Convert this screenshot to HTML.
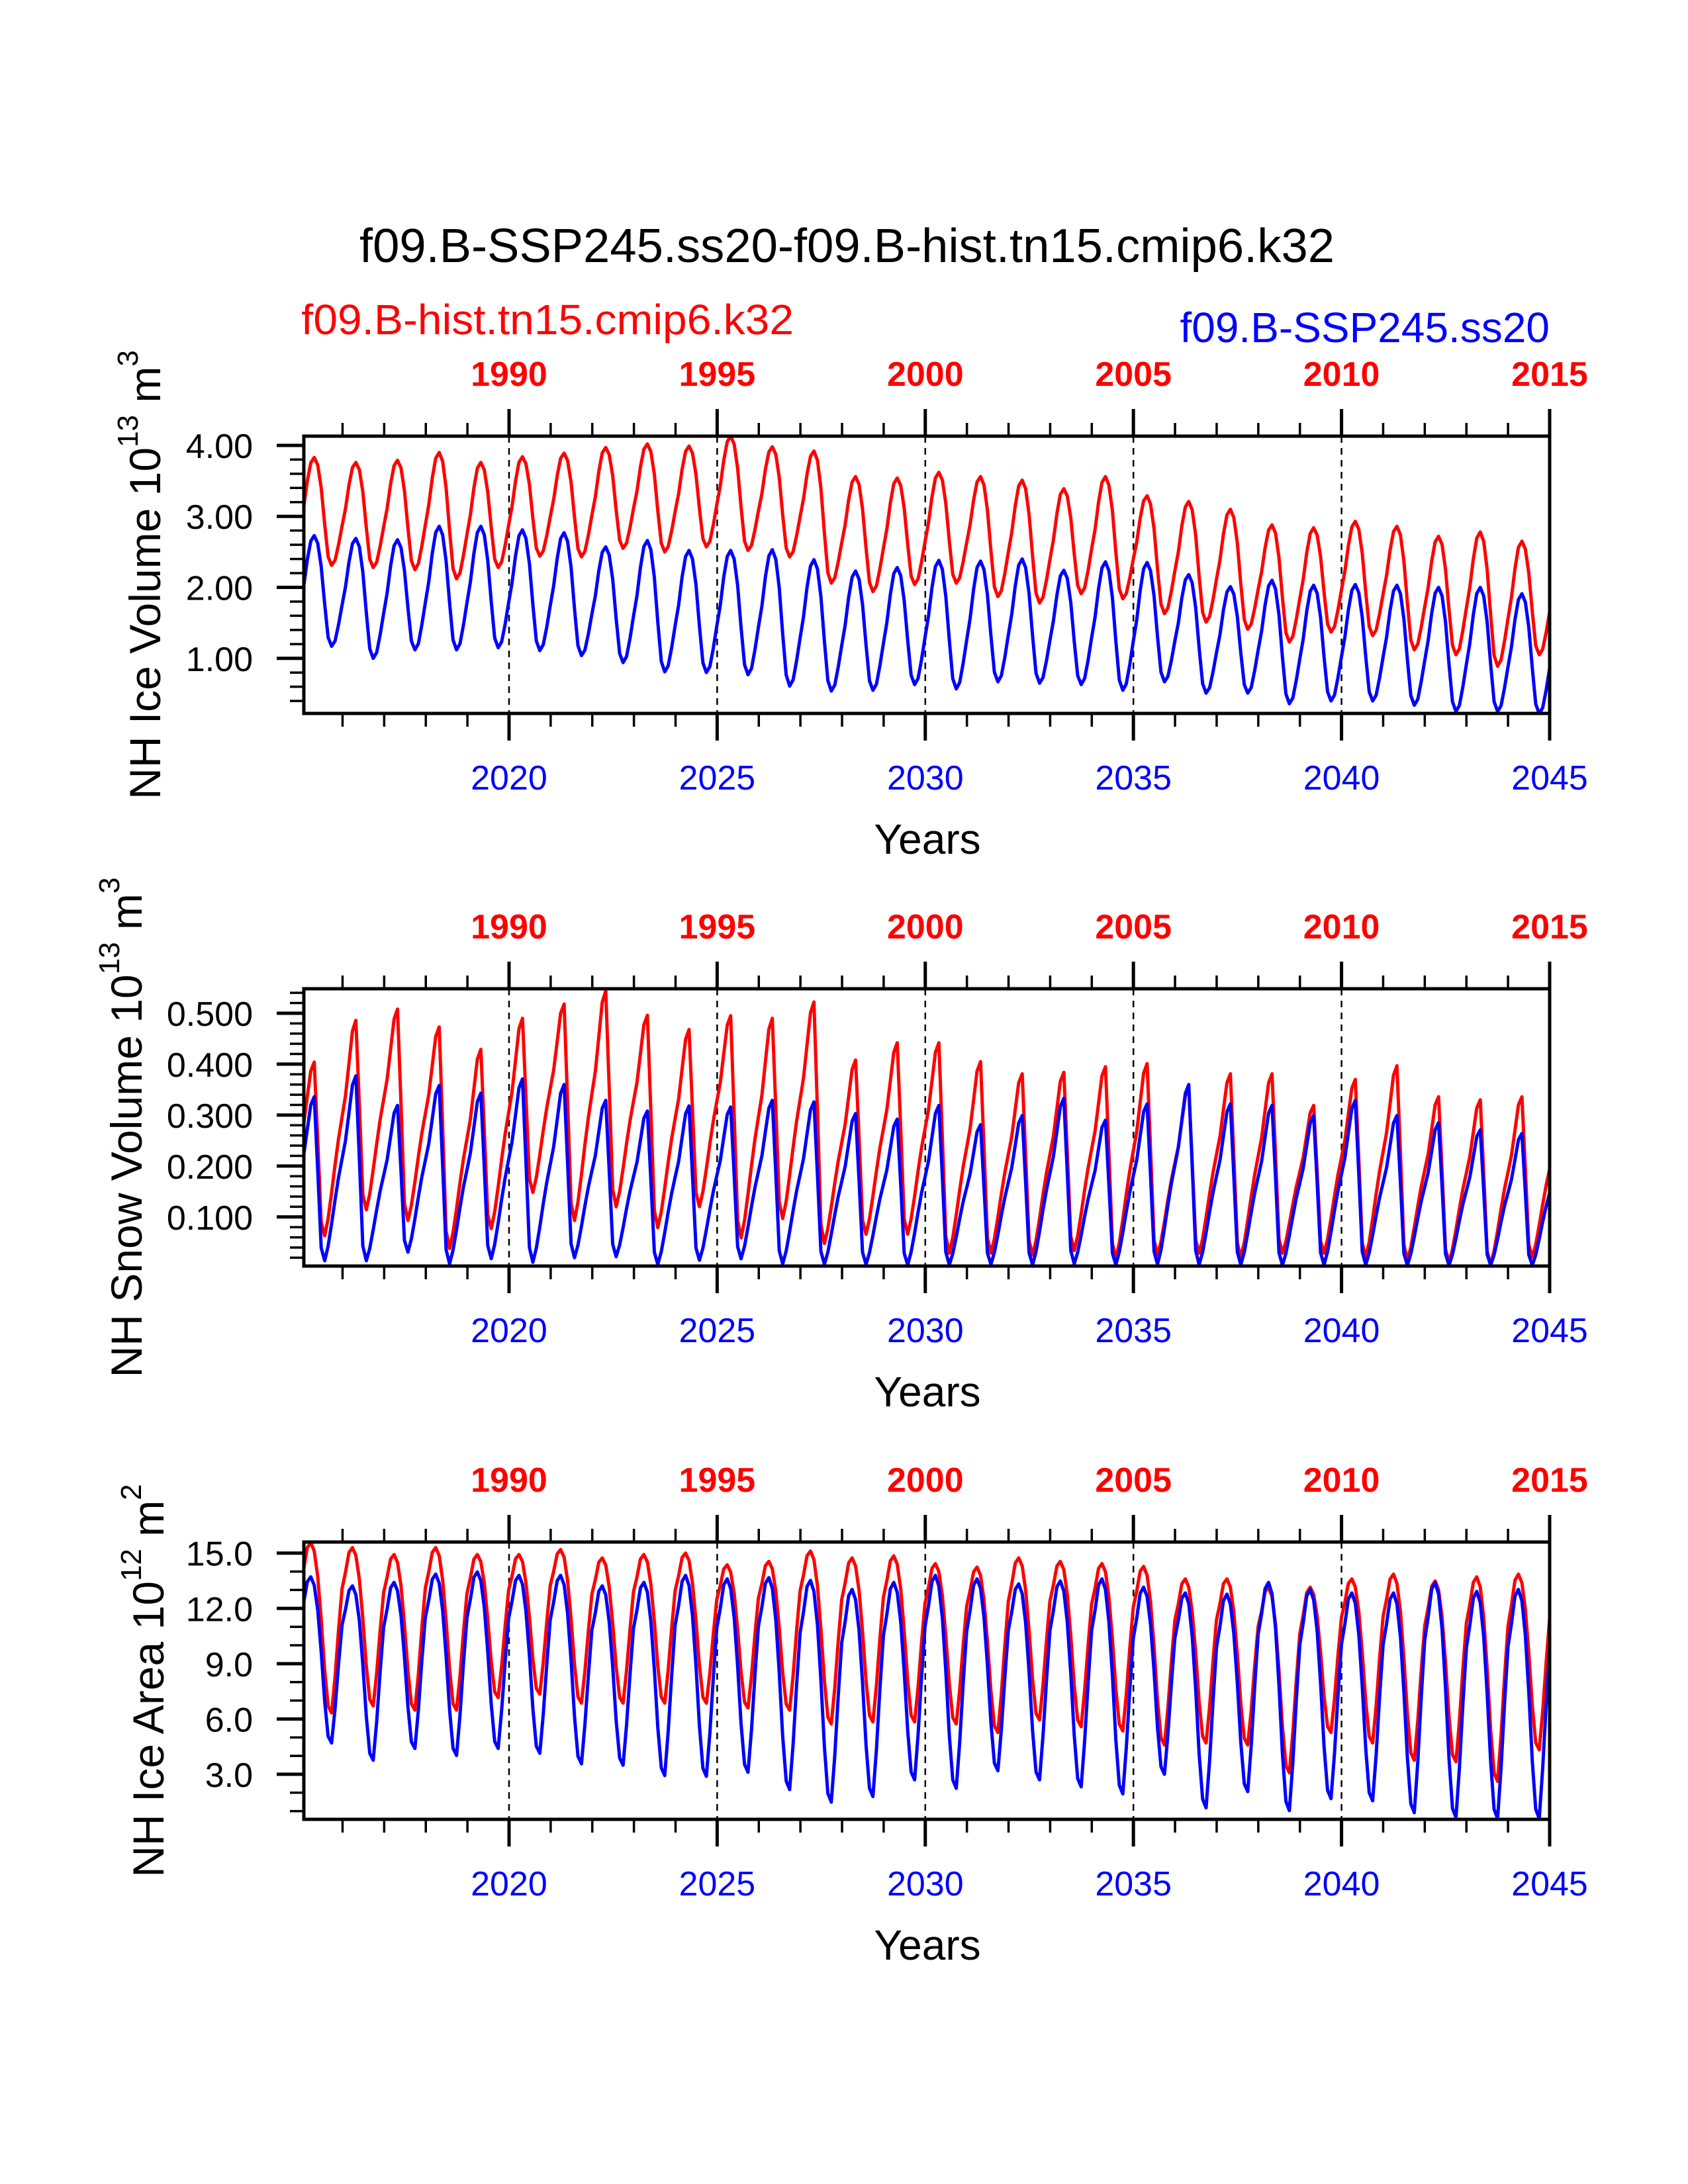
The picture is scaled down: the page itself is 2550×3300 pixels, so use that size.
<!DOCTYPE html>
<html><head><meta charset="utf-8"><style>html,body{margin:0;padding:0;background:#fff}svg{display:block}</style></head>
<body>
<svg id="chart" width="2550" height="3300" viewBox="0 0 2550 3300" xmlns="http://www.w3.org/2000/svg" font-family="Liberation Sans, Arial, sans-serif">
<rect x="0" y="0" width="2550" height="3300" fill="#fff"/>
<text x="543" y="396" font-size="72" textLength="1473" lengthAdjust="spacingAndGlyphs">f09.B-SSP245.ss20-f09.B-hist.tn15.cmip6.k32</text>
<text x="455" y="505" font-size="64" fill="#ff0000" textLength="744" lengthAdjust="spacingAndGlyphs">f09.B-hist.tn15.cmip6.k32</text>
<text x="2341" y="517" font-size="64" fill="#0000ff" text-anchor="end">f09.B-SSP245.ss20</text>
<g id="plots"></g>
</svg>
<script>
// ---- data (annual maxima / minima, 2015..2044) ----
const years = [2015,2016,2017,2018,2019,2020,2021,2022,2023,2024,2025,2026,2027,2028,2029,2030,2031,2032,2033,2034,2035,2036,2037,2038,2039,2040,2041,2042,2043,2044];
const topTickLabels = ["1990","1995","2000","2005","2010","2015"];
const bottomTickLabels = ["2020","2025","2030","2035","2040","2045"];

const iceVolRedMax = [3.83,3.76,3.79,3.90,3.76,3.84,3.89,3.97,4.02,3.99,4.13,3.98,3.92,3.56,3.54,3.62,3.56,3.51,3.39,3.56,3.29,3.21,3.10,2.88,2.84,2.93,2.86,2.72,2.78,2.65];
const iceVolRedMin = [2.31,2.28,2.25,2.12,2.28,2.44,2.43,2.55,2.50,2.57,2.52,2.43,2.06,1.94,2.04,2.06,1.87,1.78,1.91,1.84,1.63,1.51,1.41,1.23,1.37,1.32,1.12,1.05,0.89,1.05];
const iceVolBlueMax = [2.73,2.69,2.67,2.86,2.86,2.81,2.77,2.57,2.66,2.52,2.52,2.53,2.39,2.23,2.28,2.38,2.37,2.40,2.24,2.36,2.35,2.18,2.01,2.10,2.03,2.04,2.03,2.00,2.00,1.91];
const iceVolBlueMin = [1.17,1.00,1.12,1.12,1.15,1.11,1.04,0.94,0.81,0.80,0.77,0.61,0.54,0.55,0.63,0.57,0.67,0.65,0.63,0.55,0.67,0.51,0.51,0.36,0.40,0.40,0.34,0.25,0.25,0.22];

const snowRedMax = [0.404,0.486,0.508,0.473,0.429,0.490,0.518,0.544,0.496,0.468,0.495,0.490,0.522,0.408,0.442,0.442,0.405,0.381,0.384,0.395,0.401,0.353,0.381,0.381,0.319,0.370,0.397,0.336,0.330,0.336];
const snowRedMin = [0.063,0.114,0.093,0.038,0.077,0.148,0.093,0.120,0.079,0.120,0.059,0.097,0.048,0.066,0.066,0.029,0.029,0.025,0.034,0.018,0.025,0.029,0.021,0.029,0.029,0.021,0.015,0.011,0.007,0.021];
const snowBlueMax = [0.336,0.377,0.319,0.358,0.343,0.371,0.360,0.329,0.308,0.318,0.316,0.329,0.326,0.303,0.292,0.319,0.281,0.299,0.333,0.290,0.322,0.360,0.322,0.319,0.299,0.329,0.299,0.285,0.271,0.264];
const snowBlueMin = [0.014,0.014,0.031,0.008,0.018,0.011,0.020,0.022,0.007,0.015,0.018,0.008,0.007,0.007,0.006,0.006,0.007,0.006,0.008,0.006,0.007,0.006,0.006,0.005,0.006,0.006,0.005,0.005,0.005,0.005];

const areaRedMax = [15.57,15.30,14.92,15.30,14.92,14.92,15.19,14.74,14.92,15.00,14.36,14.55,15.11,14.74,14.85,14.43,14.24,14.74,14.55,14.43,14.28,13.60,13.60,13.15,13.15,13.60,13.86,13.49,13.71,13.86];
const areaRedMin = [6.33,6.71,6.48,6.48,7.16,7.35,6.86,6.86,6.86,6.86,6.60,6.48,5.73,5.84,5.84,5.73,5.27,5.95,5.58,5.35,4.59,4.70,4.59,3.08,5.27,4.70,3.76,3.68,2.62,4.33];
const areaBlueMax = [13.71,13.22,13.41,13.86,13.98,13.79,13.79,13.22,13.41,13.79,13.60,13.67,13.52,13.03,13.41,13.79,13.60,13.33,13.49,13.60,13.15,12.84,12.77,13.41,13.03,12.84,12.84,13.41,12.92,13.03];
const areaBlueMin = [4.70,3.76,4.40,4.02,4.40,4.14,3.57,3.49,2.93,2.89,3.11,2.17,1.49,1.79,2.70,2.24,3.19,2.70,2.32,1.94,3.00,1.18,2.06,1.03,1.68,1.56,0.92,0.65,0.60,0.60];

// seasonal cycle shapes (fraction between annual min and max, Jan..Dec)
const volShape  = [0.55,0.78,0.95,1.00,0.93,0.72,0.38,0.08,0.00,0.05,0.20,0.38];
const snowShape = [0.65,0.80,0.95,1.00,0.55,0.08,0.00,0.08,0.20,0.33,0.45,0.55];
const areaShape = [0.85,0.97,1.00,0.95,0.80,0.55,0.25,0.04,0.00,0.22,0.50,0.75];

const NS = "http://www.w3.org/2000/svg";
const X0 = 459, X1 = 2341, T0 = 2015.07, T1 = 2045;
function xScale(t){ return X0 + (t - T0) / (T1 - T0) * (X1 - X0); }

function monthly(mx, mn, shape, pk, mnM){
  const out = [];
  const n = mx.length;
  const c = i => Math.max(0, Math.min(n-1, i));
  for (let y = 0; y < n; y++) for (let m = 0; m < 12; m++) {
    let lo, hi;
    if (m <= pk) { lo = mn[c(y-1)]; hi = mx[y]; }
    else if (m <= mnM) { lo = mn[y]; hi = mx[y]; }
    else { lo = mn[y]; hi = mx[c(y+1)]; }
    out.push(lo + shape[m] * (hi - lo));
  }
  return out;
}
function el(tag, attrs, parent){ const e = document.createElementNS(NS, tag); for (const k in attrs) e.setAttribute(k, attrs[k]); parent.appendChild(e); return e; }

const panels = [
  {name:"ice-volume", off:0, yMin:0.224, yMax:4.13, major:[1,2,3,4], labels:["1.00","2.00","3.00","4.00"], minor:0.2,
   title:["NH Ice Volume 10","13"," m","3"], tx:242,
   red: monthly(iceVolRedMax, iceVolRedMin, volShape, 3, 8), blue: monthly(iceVolBlueMax, iceVolBlueMin, volShape, 3, 8)},
  {name:"snow-volume", off:835, yMin:0.0036, yMax:0.548, major:[0.1,0.2,0.3,0.4,0.5], labels:["0.100","0.200","0.300","0.400","0.500"], minor:0.02,
   title:["NH Snow Volume 10","13"," m","3"], tx:214,
   red: monthly(snowRedMax, snowRedMin, snowShape, 3, 6), blue: monthly(snowBlueMax, snowBlueMin, snowShape, 3, 6)},
  {name:"ice-area", off:1671, yMin:0.556, yMax:15.6, major:[3,6,9,12,15], labels:["3.0","6.0","9.0","12.0","15.0"], minor:1.0,
   title:["NH Ice Area 10","12"," m","2"], tx:247,
   red: monthly(areaRedMax, areaRedMin, areaShape, 2, 8), blue: monthly(areaBlueMax, areaBlueMin, areaShape, 2, 8)}
];

const root = document.getElementById("plots");
panels.forEach((p, pi) => {
  const top = 659 + p.off, bot = 1078 + p.off;
  const yS = v => bot - (v - p.yMin) / (p.yMax - p.yMin) * (bot - top);
  const g = el("g", {}, root);
  
  
  const cid = "clip" + pi;
  const cp = el("clipPath", {id: cid}, g);
  el("rect", {x: X0, y: top, width: X1 - X0, height: bot - top}, cp);
  [2020,2025,2030,2035,2040].forEach(yr => {
    const l = el("line", {x1: xScale(yr), x2: xScale(yr), y1: top, y2: bot, stroke: "#000", "stroke-width": 2.5, "stroke-dasharray": "10,8"}, g);
    
    
  });
  [["red","#ff0000"],["blue","#0000ff"]].forEach(([k, col]) => {
    const vals = p[k];
    let d = "";
    vals.forEach((v, i) => { const t = T0 + i * (T1 - T0) / (vals.length - 1); d += (i ? "L" : "M") + xScale(t).toFixed(1) + "," + yS(v).toFixed(1); });
    const path = el("path", {d: d, fill: "none", stroke: col, "stroke-width": 5, "stroke-linejoin": "round", "clip-path": "url(#" + cid + ")"}, g);
    
    
  });
  const fr = el("rect", {x: X0, y: top, width: X1 - X0, height: bot - top, fill: "none", stroke: "#000", "stroke-width": 5}, g);
  
  
  for (let yr = 2016; yr <= 2045; yr++) {
    const x = xScale(yr), maj = yr % 5 === 0, len = maj ? 41 : 20, w = maj ? 5 : 3.5;
    el("line", {x1: x, x2: x, y1: top, y2: top - len, stroke: "#000", "stroke-width": w}, g);
    el("line", {x1: x, x2: x, y1: bot, y2: bot + len, stroke: "#000", "stroke-width": w}, g);
  }
  topTickLabels.forEach((lab, i) => {
    const t = el("text", {x: xScale(2020 + 5 * i), y: 583 + p.off, "font-size": 52, "font-weight": "bold", fill: "#ff0000", "text-anchor": "middle"}, g);
    t.textContent = lab;
    
    
  });
  bottomTickLabels.forEach((lab, i) => {
    const t = el("text", {x: xScale(2020 + 5 * i), y: 1193 + p.off, "font-size": 52, fill: "#0000ff", "text-anchor": "middle"}, g);
    t.textContent = lab;
    
    
  });
  const xt = el("text", {x: 1401, y: 1290 + p.off, "font-size": 64, "text-anchor": "middle"}, g);
  xt.textContent = "Years";
  
  
  const nMin = Math.round(p.yMax / p.minor);
  for (let k = 0; k <= nMin; k++) {
    const v = k * p.minor;
    if (v < p.yMin || v > p.yMax) continue;
    const isMaj = p.major.some(m => Math.abs(m - v) < 1e-6);
    if (isMaj) continue;
    el("line", {x1: X0, x2: X0 - 21, y1: yS(v), y2: yS(v), stroke: "#000", "stroke-width": 3.5}, g);
  }
  p.major.forEach((v, i) => {
    el("line", {x1: X0, x2: X0 - 41, y1: yS(v), y2: yS(v), stroke: "#000", "stroke-width": 5}, g);
    const t = el("text", {x: 382, y: yS(v) + 19, "font-size": 52, "text-anchor": "end"}, g);
    t.textContent = p.labels[i];
    
    
  });
  const cy = (top + bot) / 2;
  const yt = el("text", {x: 0, y: 0, "font-size": 66, "text-anchor": "middle", transform: "translate(" + p.tx + "," + cy + ") rotate(-90)"}, g);
  
  
  const s1 = el("tspan", {}, yt); s1.textContent = p.title[0];
  const s2 = el("tspan", {dy: -34, "font-size": 44}, yt); s2.textContent = p.title[1];
  const s3 = el("tspan", {dy: 34}, yt); s3.textContent = p.title[2];
  const s4 = el("tspan", {dy: -34, "font-size": 44}, yt); s4.textContent = p.title[3];
});
</script>
</body></html>
